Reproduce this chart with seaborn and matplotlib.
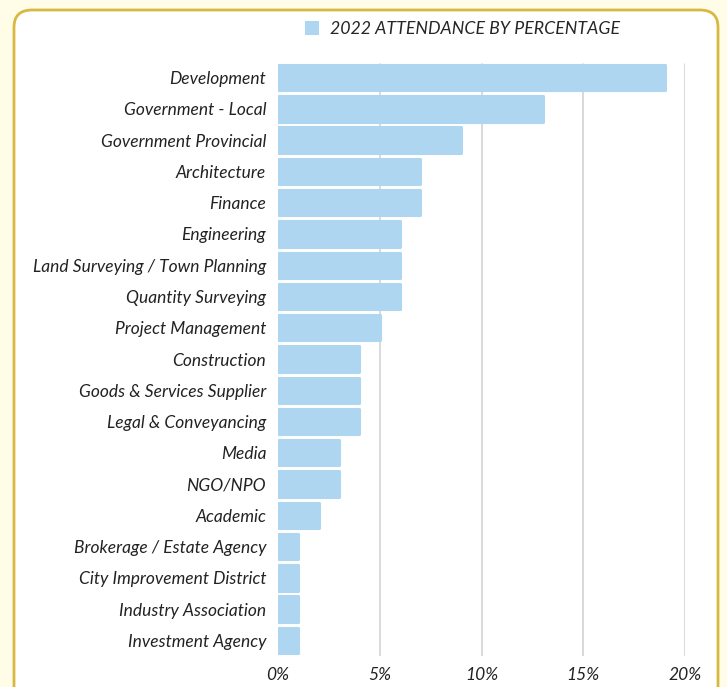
import seaborn as sns
import matplotlib.pyplot as plt
from matplotlib.patches import FancyBboxPatch

sectors = ['Development', 'Government - Local', 'Government Provincial', 'Architecture',
           'Finance', 'Engineering', 'Land Surveying / Town Planning', 'Quantity Surveying',
           'Project Management', 'Construction', 'Goods & Services Supplier',
           'Legal & Conveyancing', 'Media', 'NGO/NPO', 'Academic',
           'Brokerage / Estate Agency', 'City Improvement District',
           'Industry Association', 'Investment Agency']
attendance = [19, 13, 9, 7, 7, 6, 6, 6, 5, 4, 4, 4, 3, 3, 2, 1, 1, 1, 1]
ticks = [0, 5, 10, 15, 20]

sns.set_style('white')
plt.rcParams['font.family'] = ['Lato', 'DejaVu Sans']
plt.rcParams['font.style'] = 'italic'

W, H = 727, 687
fig = plt.figure(figsize=(W / 100, H / 100), dpi=100, facecolor='#fffce8')

# white card with gold border, behind the axes
card = FancyBboxPatch((14 / W, -0.05), 704 / W, 1.05 - 10 / H,
                      boxstyle='round,pad=0,rounding_size=0.025',
                      transform=fig.transFigure, facecolor='white',
                      edgecolor='#d9b842', linewidth=2, zorder=-5)
fig.patches.append(card)

ax = fig.add_axes([278 / W, 1 - 656 / H, (685 - 278) / W, (656 - 62) / H])
ax.set_facecolor('none')
ax.set_zorder(1)

bar_color = '#aed6f1'
sns.barplot(x=attendance, y=sectors, color=bar_color, saturation=1, width=0.81, ax=ax,
            label='2022 ATTENDANCE BY PERCENTAGE')
for p in ax.patches:
    p.set_edgecolor(bar_color)
    p.set_linewidth(2.2)
    p.set_joinstyle('round')
    p.set_zorder(3)

ax.set_xlim(0, 20)
ax.set_xticks(ticks)
ax.set_xticklabels([f'{t}%' for t in ticks], fontsize=12.5, color='#222222')
ax.tick_params(axis='x', length=0, pad=8)
ax.tick_params(axis='y', length=0, pad=8.5, labelsize=12.5, labelcolor='#222222')
for t in ticks[1:]:
    ax.axvline(t, ymin=0, ymax=1 - 2 / 594, color='#d3d3d3', linewidth=1.2, zorder=1)
sns.despine(ax=ax, left=True, bottom=True)
ax.set_xlabel('')
ax.set_ylabel('')

ax.legend(loc='center', bbox_to_anchor=(463 / W, 1 - 29 / H),
          bbox_transform=fig.transFigure, frameon=False,
          handlelength=0.6, handleheight=0.6, handletextpad=0.7,
          prop={'family': 'Lato', 'style': 'italic', 'size': 12.8})

fig.savefig('out.png', dpi=100, facecolor=fig.get_facecolor())
